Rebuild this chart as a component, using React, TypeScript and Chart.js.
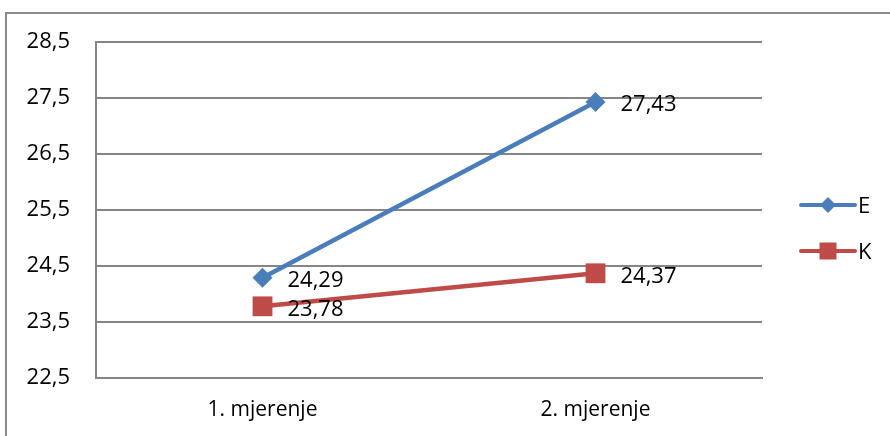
import React, { useEffect, useRef } from 'react';
import { Chart, registerables } from 'chart.js';

Chart.register(...registerables);

const categories = ['1. mjerenje', '2. mjerenje'];
const seriesE = [24.29, 27.43];
const seriesK = [23.78, 24.37];
const seriesNames = ['E', 'K'];
const yMin = 22.5;
const yMax = 28.5;
const yStep = 1;

const FONT = '"Open Sans", "DejaVu Sans", sans-serif';
const BLUE = '#4A7EBB';
const RED = '#BE4B48';
const GRID = '#868686';

const fmt = (v: number) => v.toFixed(2).replace('.', ',');

function drawMarker(ctx: CanvasRenderingContext2D, style: string, x: number, y: number, r: number, color: string) {
  ctx.save();
  ctx.fillStyle = color;
  ctx.beginPath();
  if (style === 'rectRot') {
    ctx.moveTo(x, y - r);
    ctx.lineTo(x + r, y);
    ctx.lineTo(x, y + r);
    ctx.lineTo(x - r, y);
    ctx.closePath();
  } else {
    ctx.rect(x - r, y - r, 2 * r, 2 * r);
  }
  ctx.fill();
  ctx.restore();
}

const framePlugin = {
  id: 'frame',
  beforeDraw(chart: any) {
    const ctx = chart.ctx;
    ctx.save();
    ctx.fillStyle = '#ffffff';
    ctx.fillRect(0, 0, chart.width, chart.height);
    ctx.strokeStyle = '#8c8c8c';
    ctx.lineWidth = 2;
    ctx.beginPath();
    ctx.moveTo(6, chart.height + 2);
    ctx.lineTo(6, 13);
    ctx.lineTo(chart.width + 2, 13);
    ctx.stroke();
    ctx.restore();
  },
};

const labelPlugin = {
  id: 'valueLabels',
  afterDatasetsDraw(chart: any) {
    const ctx = chart.ctx;
    ctx.save();
    ctx.font = `22px ${FONT}`;
    ctx.fillStyle = '#000';
    ctx.textAlign = 'left';
    ctx.textBaseline = 'middle';
    chart.data.datasets.forEach((ds: any, i: number) => {
      const meta = chart.getDatasetMeta(i);
      meta.data.forEach((pt: any, j: number) => {
        ctx.fillText(fmt(ds.data[j]), pt.x + 25, pt.y + 3);
      });
    });
    ctx.restore();
  },
};

const legendPlugin = {
  id: 'customLegend',
  afterDraw(chart: any) {
    const ctx = chart.ctx;
    const items = [
      { name: seriesNames[0], color: BLUE, style: 'rectRot', r: 8, y: 205 },
      { name: seriesNames[1], color: RED, style: 'rect', r: 8.5, y: 251 },
    ];
    ctx.save();
    items.forEach((it) => {
      ctx.strokeStyle = it.color;
      ctx.lineWidth = 4;
      ctx.lineCap = 'round';
      ctx.beginPath();
      ctx.moveTo(801, it.y);
      ctx.lineTo(855, it.y);
      ctx.stroke();
      drawMarker(ctx, it.style, 828, it.y, it.r, it.color);
      ctx.fillStyle = '#000';
      ctx.font = `22px ${FONT}`;
      ctx.textAlign = 'left';
      ctx.textBaseline = 'middle';
      ctx.fillText(it.name, 858, it.y + 2);
    });
    ctx.restore();
  },
};

export default function App() {
  const ref = useRef<HTMLCanvasElement | null>(null);
  useEffect(() => {
    if (!ref.current) return;
    const chart = new Chart(ref.current, {
      type: 'line',
      data: {
        labels: categories,
        datasets: [
          {
            label: seriesNames[0],
            data: seriesE,
            borderColor: BLUE,
            backgroundColor: BLUE,
            borderWidth: 4.5,
            pointStyle: 'rectRot',
            pointRadius: 10,
            pointBorderWidth: 0,
            pointBackgroundColor: BLUE,
          },
          {
            label: seriesNames[1],
            data: seriesK,
            borderColor: RED,
            backgroundColor: RED,
            borderWidth: 4.5,
            pointStyle: 'rect',
            pointRadius: 14,
            pointBorderWidth: 0,
            pointBackgroundColor: RED,
          },
        ],
      },
      options: {
        responsive: false,
        animation: false,
        devicePixelRatio: 1,
        layout: { padding: { top: 42, right: 128, bottom: 0, left: 0 } },
        plugins: {
          legend: { display: false },
          tooltip: { enabled: false },
        },
        scales: {
          x: {
            offset: true,
            grid: { display: false, drawTicks: false },
            border: { display: true, color: GRID, width: 2 },
            ticks: { color: '#000', font: { family: FONT, size: 21 }, padding: 19 },
            afterFit(s: any) { s.height = 58; },
          },
          y: {
            min: yMin,
            max: yMax,
            grid: { color: GRID, lineWidth: 2, drawTicks: false },
            border: { display: true, color: GRID, width: 2 },
            ticks: {
              stepSize: yStep,
              color: '#000',
              font: { family: FONT, size: 22 },
              padding: 26,
              callback: (v: any) => Number(v).toFixed(1).replace('.', ','),
            },
            afterFit(s: any) { s.width = 96; },
          },
        },
      },
      plugins: [framePlugin, labelPlugin, legendPlugin],
    });
    return () => chart.destroy();
  }, []);
  return (
    <div style={{ position: 'absolute', left: 0, top: 0, width: 890, height: 436 }}>
      <canvas ref={ref} width={890} height={436} />
    </div>
  );
}
